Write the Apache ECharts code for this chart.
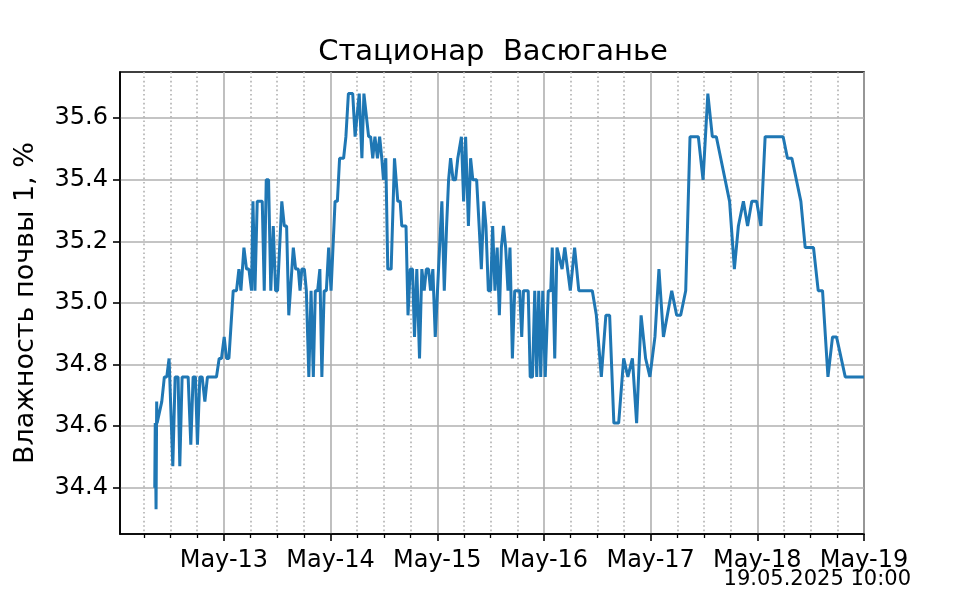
<!DOCTYPE html>
<html>
<head>
<meta charset="utf-8">
<script src="https://cdn.jsdelivr.net/npm/echarts@6/dist/echarts.min.js"></script>
<style>
html,body{margin:0;padding:0;background:#fff;}
#chart{width:960px;height:600px;}
</style>
</head>
<body>
<div id="chart"></div>
<script>
// ---- data ----
const titleText = 'Стационар  Васюганье';
const yAxisTitle = 'Влажность почвы 1, %';
const stampText = '19.05.2025 10:00';
const startUTC = Date.UTC(2025, 4, 12, 0, 0, 0); // 12 May 2025 00:00

// hours since 12 May 00:00
const hoursSinceStart = [
  8.45, 8.56, 8.74, 8.88, 8.97, 10.03, 10.61, 11.15, 11.67, 12.51,
  13.03, 13.70, 14.08, 14.60, 15.96, 16.56, 17.08, 17.60, 18.05, 18.59,
  19.11, 19.72, 20.30, 22.33, 22.94, 23.46, 24.07, 24.59, 25.13, 26.10,
  26.84, 27.38, 27.83, 28.51, 29.09, 29.63, 30.22, 30.54, 30.99, 31.50,
  32.63, 33.08, 33.53, 34.05, 34.55, 35.11, 35.63, 36.08, 37.03, 37.59,
  38.11, 38.60, 39.62, 40.14, 40.74, 41.13, 41.53, 42.10, 42.55, 43.11,
  43.61, 44.12, 44.57, 45.09, 45.59, 46.04, 46.56, 47.05, 47.57, 48.11,
  49.01, 49.53, 50.03, 50.93, 51.45, 52.01, 52.98, 53.52, 53.97, 54.45,
  55.05, 55.50, 56.56, 57.01, 57.49, 57.98, 58.55, 59.04, 59.52, 59.90,
  60.42, 60.87, 61.63, 62.38, 63.12, 63.66, 64.02, 64.97, 65.42, 65.92,
  66.43, 66.88, 67.40, 68.01, 68.53, 69.07, 69.54, 70.04, 70.49, 71.01,
  71.55, 72.52, 73.04, 73.58, 74.10, 74.55, 75.00, 75.56, 76.12, 76.62,
  77.03, 77.43, 77.93, 78.38, 79.01, 79.50, 80.00, 80.86, 81.42, 81.92,
  82.48, 82.95, 83.49, 84.01, 84.46, 84.98, 85.48, 85.97, 86.42, 86.90,
  87.39, 87.91, 88.36, 88.90, 89.42, 90.55, 91.00, 91.40, 92.46, 92.91,
  93.43, 93.93, 94.38, 94.83, 95.28, 95.73, 96.29, 96.63, 96.97, 97.53,
  97.87, 98.43, 98.93, 100.08, 100.69, 101.93, 102.90, 103.84, 106.88, 107.79,
  108.91, 109.93, 110.78, 111.73, 112.81, 113.94, 114.88, 115.90, 116.85, 117.86,
  118.87, 119.84, 120.97, 121.87, 122.88, 124.75, 125.86, 126.76, 127.89, 128.86,
  130.73, 131.79, 132.87, 133.88, 134.78, 137.76, 138.84, 139.74, 140.87, 141.81,
  142.76, 143.84, 144.81, 145.76, 149.81, 150.78, 151.77, 153.80, 154.77, 156.64,
  157.70, 158.67, 159.89, 160.92, 161.82, 163.78, 168.00
];
const soilMoisture = [
  34.40, 34.61, 34.33, 34.68, 34.61, 34.68, 34.76, 34.76, 34.82, 34.47,
  34.76, 34.76, 34.47, 34.76, 34.76, 34.54, 34.76, 34.76, 34.54, 34.76,
  34.76, 34.68, 34.76, 34.76, 34.82, 34.82, 34.89, 34.82, 34.82, 35.04,
  35.04, 35.11, 35.04, 35.18, 35.11, 35.11, 35.04, 35.33, 35.04, 35.33,
  35.33, 35.04, 35.40, 35.40, 35.04, 35.25, 35.04, 35.04, 35.33, 35.25,
  35.25, 34.96, 35.18, 35.11, 35.11, 35.04, 35.11, 35.11, 35.04, 34.76,
  35.04, 34.76, 35.04, 35.04, 35.11, 34.76, 35.04, 35.04, 35.18, 35.04,
  35.33, 35.33, 35.47, 35.47, 35.54, 35.68, 35.68, 35.54, 35.61, 35.68,
  35.47, 35.68, 35.54, 35.54, 35.47, 35.54, 35.47, 35.54, 35.47, 35.40,
  35.47, 35.11, 35.11, 35.47, 35.33, 35.33, 35.25, 35.25, 34.96, 35.11,
  35.11, 34.89, 35.11, 34.82, 35.11, 35.04, 35.11, 35.11, 35.04, 35.11,
  34.89, 35.18, 35.33, 35.04, 35.25, 35.40, 35.47, 35.40, 35.40, 35.47,
  35.47, 35.54, 35.33, 35.54, 35.25, 35.47, 35.40, 35.40, 35.25, 35.11,
  35.33, 35.25, 35.04, 35.04, 35.25, 35.04, 35.18, 34.96, 35.18, 35.25,
  35.18, 35.04, 35.18, 34.82, 35.04, 35.04, 34.89, 35.04, 35.04, 34.76,
  34.76, 35.04, 34.76, 35.04, 34.76, 35.04, 34.76, 34.76, 35.04, 35.04,
  35.18, 34.82, 35.18, 35.11, 35.18, 35.04, 35.18, 35.04, 35.04, 34.96,
  34.76, 34.96, 34.96, 34.61, 34.61, 34.82, 34.76, 34.82, 34.61, 34.96,
  34.82, 34.76, 34.89, 35.11, 34.89, 35.04, 34.96, 34.96, 35.04, 35.54,
  35.54, 35.40, 35.68, 35.54, 35.54, 35.33, 35.11, 35.25, 35.33, 35.25,
  35.33, 35.33, 35.25, 35.54, 35.54, 35.47, 35.47, 35.33, 35.18, 35.18,
  35.04, 35.04, 34.76, 34.89, 34.89, 34.76, 34.76
];

// axis ticks
const dayTickHours = [24, 48, 72, 96, 120, 144, 168];
const dayTickLabels = ['May-13', 'May-14', 'May-15', 'May-16', 'May-17', 'May-18', 'May-19'];
const minorTickHours = [6, 12, 18, 30, 36, 42, 54, 60, 66, 78, 84, 90, 102, 108, 114, 126, 132, 138, 150, 156, 162];
const xRangeHours = [0.63, 168.0];
const yTicks = [34.4, 34.6, 34.8, 35.0, 35.2, 35.4, 35.6];
const yRange = [34.25, 35.75];

// ---- build ----
const H = 3600 * 1000;
const toMs = h => startUTC + h * H;
const seriesData = hoursSinceStart.map((h, i) => [toMs(h), soilMoisture[i]]);
const dayTicksMs = dayTickHours.map(toMs);
const minorTicksMs = minorTickHours.map(toMs);

const FONT = 'DejaVu Sans';
const chart = echarts.init(document.getElementById('chart'), null, {renderer: 'canvas'});
chart.setOption({
  animation: false,
  backgroundColor: '#ffffff',
  title: {
    text: titleText,
    left: 488,
    top: 33,
    textAlign: 'center',
    textStyle: {fontFamily: FONT, fontSize: 29, fontWeight: 'normal', color: '#000'}
  },
  grid: {
    left: 120, right: 96, top: 72, bottom: 66,
    show: true, borderColor: '#000', borderWidth: 1.6, backgroundColor: 'transparent'
  },
  xAxis: [
    {
      type: 'value',
      min: toMs(xRangeHours[0]),
      max: toMs(xRangeHours[1]),
      axisLine: {show: true, lineStyle: {color: '#000', width: 1.6}},
      axisTick: {show: true, inside: false, length: 7, customValues: dayTicksMs, lineStyle: {color: '#000', width: 1.6}},
      axisLabel: {
        show: true, customValues: dayTicksMs, margin: 15,
        fontFamily: FONT, fontSize: 24, color: '#000',
        formatter: function (v) {
          const idx = dayTicksMs.findIndex(t => Math.abs(t - v) < 60000);
          return idx >= 0 ? dayTickLabels[idx] : '';
        }
      },
      splitLine: {show: true, lineStyle: {color: '#b0b0b0', width: 1.6, type: 'solid'}}
    },
    {
      type: 'value',
      position: 'bottom',
      min: toMs(xRangeHours[0]),
      max: toMs(xRangeHours[1]),
      axisLine: {show: false},
      axisTick: {show: true, inside: false, length: 4, customValues: minorTicksMs, lineStyle: {color: '#000', width: 1.3}},
      axisLabel: {show: false},
      splitLine: {show: true, lineStyle: {color: '#b0b0b0', width: 1.6, type: [1.6, 2.8]}}
    }
  ],
  yAxis: {
    type: 'value',
    min: yRange[0],
    max: yRange[1],
    name: yAxisTitle,
    nameLocation: 'middle',
    nameRotate: 90,
    nameGap: 81,
    nameTextStyle: {fontFamily: FONT, fontSize: 27, color: '#000'},
    axisLine: {show: true, lineStyle: {color: '#000', width: 1.6}},
    axisTick: {show: true, inside: false, length: 7, customValues: yTicks, lineStyle: {color: '#000', width: 1.6}},
    axisLabel: {
      show: true, customValues: yTicks, margin: 12,
      fontFamily: FONT, fontSize: 24, color: '#000',
      formatter: v => v.toFixed(1)
    },
    splitLine: {show: true, lineStyle: {color: '#b0b0b0', width: 1.6}}
  },
  graphic: [{
    type: 'text',
    right: 49,
    top: 569,
    style: {text: stampText, fontFamily: FONT, fontSize: 21, fill: '#000'}
  }],
  series: [{
    type: 'line',
    xAxisIndex: 0,
    data: seriesData,
    showSymbol: false,
    symbol: 'none',
    lineStyle: {color: '#1f77b4', width: 3},
    itemStyle: {color: '#1f77b4'},
    z: 5
  }]
});
</script>
</body>
</html>
